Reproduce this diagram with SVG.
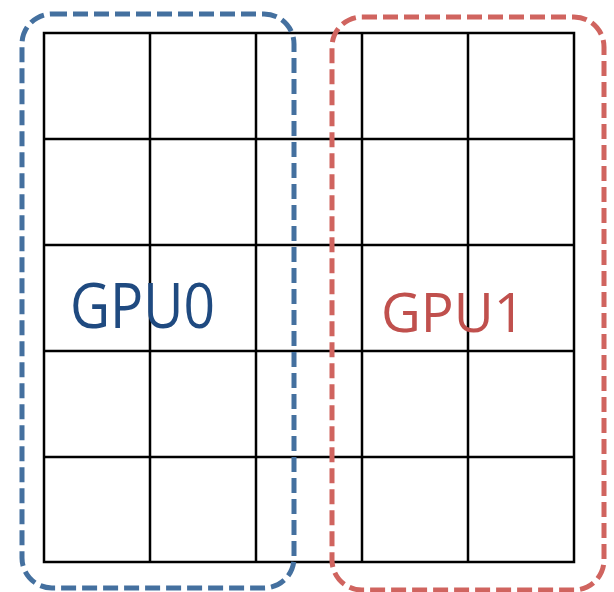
<svg xmlns="http://www.w3.org/2000/svg" width="614" height="592" viewBox="0 0 614 592">
  <style>
    .grid { stroke: #000; stroke-width: 2.5; fill: none; }
    .region { fill: none; stroke-width: 5; stroke-dasharray: 15 6; }
    .label { font-family: "Open Sans", "Noto Sans", sans-serif; }
  </style>
  <rect width="614" height="592" fill="#fff"/>
  <g id="grid">
    <rect class="grid" x="44" y="33" width="530" height="529"/>
    <path class="grid" d="M150 33V562M256 33V562M362 33V562M468 33V562M44 139H574M44 245H574M44 351H574M44 457H574"/>
  </g>
  <g id="gpu0">
    <rect class="region" x="22" y="14" width="272" height="574" rx="30" ry="30" stroke="#44709f"/>
    <text class="label" x="70" y="328" font-size="62" fill="#1f4a80" textLength="145" lengthAdjust="spacingAndGlyphs">GPU0</text>
  </g>
  <g id="gpu1">
    <rect class="region" x="332" y="17" width="272" height="573" rx="30" ry="30" stroke="#d0645f"/>
    <text class="label" x="381" y="332" font-size="55" fill="#c0504d" textLength="144" lengthAdjust="spacingAndGlyphs">GPU1</text>
  </g>
</svg>
